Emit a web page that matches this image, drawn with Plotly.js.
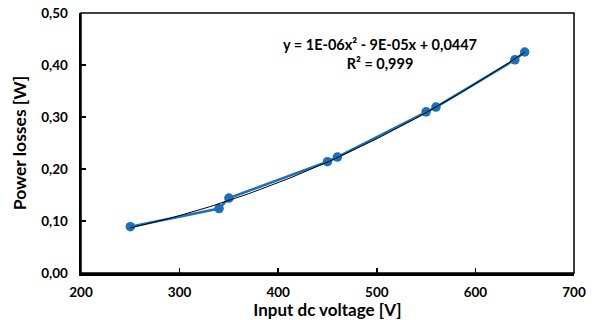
<!DOCTYPE html>
<html>
<head>
<meta charset="utf-8">
<script src="https://cdn.plot.ly/plotly-3.0.1.min.js"></script>
<style>html,body{margin:0;padding:0;background:#fff;}#chart{width:598px;height:320px;}</style>
</head>
<body>
<div id="chart"></div>
<script>
var voltage = [250, 340, 350, 450, 460, 550, 560, 640, 650];
var losses = [0.089, 0.124, 0.144, 0.214, 0.223, 0.310, 0.319, 0.410, 0.425];
var xTicks = [200, 300, 400, 500, 600, 700];
var yTicks = [0, 0.1, 0.2, 0.3, 0.4, 0.5];
var yTickText = ['0,00', '0,10', '0,20', '0,30', '0,40', '0,50'];
var eqText = 'y = 1E-06x² - 9E-05x + 0,0447<br>R² = 0,999';

// least-squares quadratic fit of the data (Excel polynomial trendline)
function polyfit2(xs, ys) {
  var n = xs.length, S = [0,0,0,0,0], T = [0,0,0];
  for (var i = 0; i < n; i++) {
    var p = 1;
    for (var k = 0; k < 5; k++) { S[k] += p; if (k < 3) T[k] += p * ys[i]; p *= xs[i]; }
  }
  var A = [[S[0],S[1],S[2],T[0]],[S[1],S[2],S[3],T[1]],[S[2],S[3],S[4],T[2]]];
  for (var c = 0; c < 3; c++) {
    for (var r = c + 1; r < 3; r++) {
      var f = A[r][c] / A[c][c];
      for (var j = c; j < 4; j++) A[r][j] -= f * A[c][j];
    }
  }
  var coef = [0,0,0];
  for (var r2 = 2; r2 >= 0; r2--) {
    var s = A[r2][3];
    for (var j2 = r2 + 1; j2 < 3; j2++) s -= A[r2][j2] * coef[j2];
    coef[r2] = s / A[r2][r2];
  }
  return coef;
}
var cf = polyfit2(voltage, losses);
var tx = [], ty = [];
var xmin = voltage[0], xmax = voltage[voltage.length - 1];
for (var i = 0; i <= 100; i++) {
  var xv = xmin + (xmax - xmin) * i / 100;
  tx.push(xv); ty.push(cf[0] + cf[1] * xv + cf[2] * xv * xv);
}

var font = 'Lato, "Open Sans", sans-serif';
var data = [
  {x: voltage, y: losses, type: 'scatter', mode: 'lines+markers',
   line: {color: '#1a71b8', width: 2.5}, marker: {color: '#1a71b8', size: 9.5},
   hoverinfo: 'none', showlegend: false},
  {x: tx, y: ty, type: 'scatter', mode: 'lines',
   line: {color: '#000000', width: 1}, hoverinfo: 'none', showlegend: false}
];
var layout = {
  width: 598, height: 320,
  margin: {l: 81, r: 24, t: 13, b: 47},
  paper_bgcolor: '#ffffff', plot_bgcolor: '#ffffff',
  font: {family: font, color: '#000000'},
  xaxis: {
    range: [200, 700], tickvals: xTicks, ticktext: xTicks.map(String),
    showgrid: false, zeroline: false, showline: true, linecolor: '#000', linewidth: 2.5,
    ticks: 'inside', ticklen: 5, tickwidth: 1.5, tickcolor: '#000', ticklabelstandoff: 5,
    tickfont: {family: font, size: 13.5, color: '#000', weight: 'bold'},
    title: {text: '<b>Input dc voltage [V]</b>', font: {family: font, size: 17, color: '#000'}, standoff: 3}
  },
  yaxis: {
    range: [0, 0.5], tickvals: yTicks, ticktext: yTickText,
    showgrid: false, zeroline: false, showline: true, linecolor: '#000', linewidth: 2.5,
    ticks: 'inside', ticklen: 5, tickwidth: 1.5, tickcolor: '#000', ticklabelstandoff: 8,
    tickfont: {family: font, size: 13.5, color: '#000', weight: 'bold'},
    title: {text: '<b>Power losses [W]</b>', font: {family: font, size: 17.5, color: '#000'}, standoff: 10}
  },
  shapes: [
    {type: 'rect', xref: 'paper', yref: 'paper', x0: 0, x1: 1, y0: 0, y1: 1,
     line: {color: '#000', width: 1.5}, layer: 'above'}
  ],
  annotations: [
    {xref: 'x', yref: 'y', x: 200 + (380 - 81) / 493 * 500, y: (272.7 - 54) / 519,
     xanchor: 'center', text: '<b>' + eqText + '</b>',
     showarrow: false, align: 'center', font: {family: font, size: 14.5, color: '#000'}}
  ]
};
Plotly.newPlot('chart', data, layout, {staticPlot: true});
</script>
</body>
</html>
